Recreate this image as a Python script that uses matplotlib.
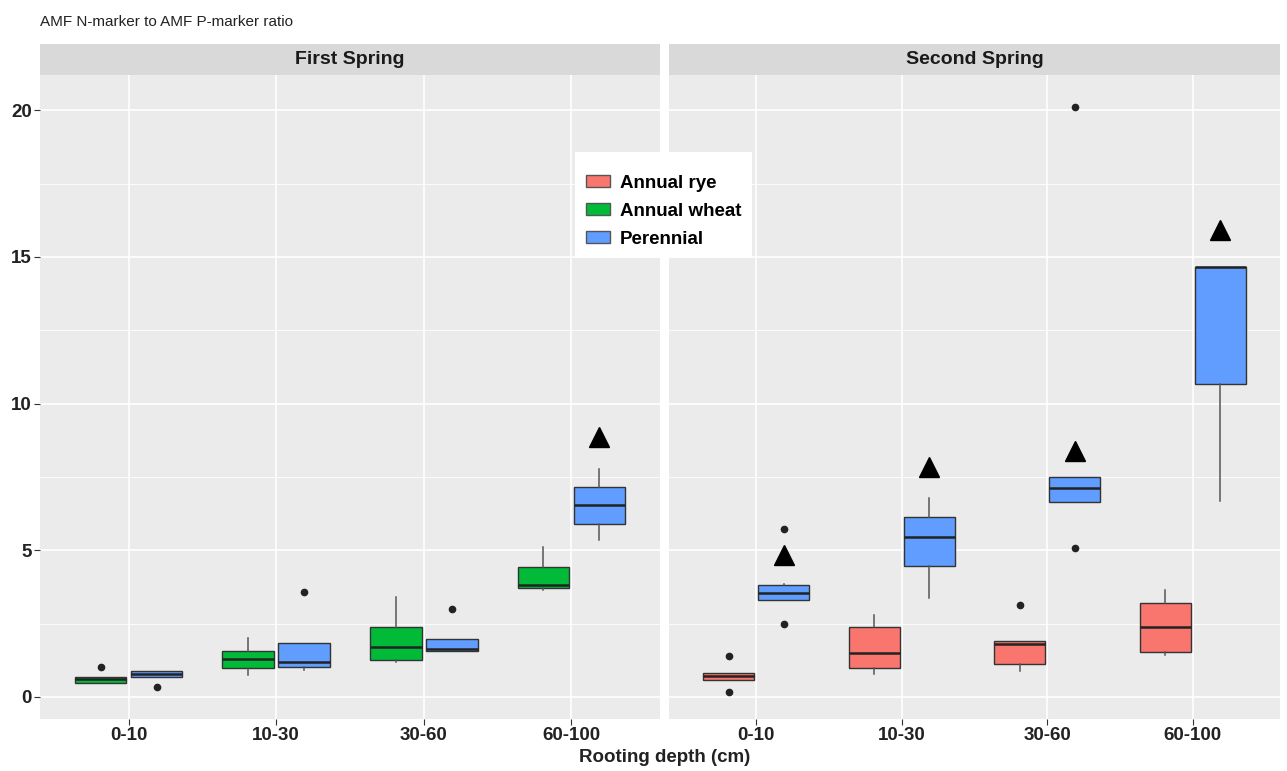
import numpy as np
import matplotlib.pyplot as plt
from matplotlib.patches import Patch, Rectangle
from matplotlib.ticker import MultipleLocator

plt.rcParams['font.family'] = ['Liberation Sans', 'DejaVu Sans']

depths = ['0-10', '10-30', '30-60', '60-100']
panels = ['First Spring', 'Second Spring']
groups = ['Annual rye', 'Annual wheat', 'Perennial']
colors = ['#F8766D', '#00BA38', '#619CFF']

# box stats: (q1, median, q3, whisker low, whisker high, outliers)
wheat_first = [
    (0.48, 0.60, 0.68, 0.48, 0.68, [1.02]),
    (0.99, 1.30, 1.57, 0.75, 2.00, []),
    (1.26, 1.71, 2.39, 1.20, 3.41, []),
    (3.72, 3.82, 4.44, 3.65, 5.12, []),
]
perennial_first = [
    (0.68, 0.80, 0.89, 0.68, 0.89, [0.34]),
    (1.02, 1.20, 1.84, 0.92, 1.84, [3.58]),
    (1.57, 1.64, 1.98, 1.57, 1.98, [3.00]),
    (5.90, 6.55, 7.17, 5.36, 7.78, []),
]
rye_second = [
    (0.58, 0.72, 0.82, 0.58, 0.82, [1.40, 0.17]),
    (0.99, 1.50, 2.39, 0.78, 2.80, []),
    (1.13, 1.79, 1.91, 0.88, 1.91, [3.13]),
    (1.54, 2.38, 3.19, 1.43, 3.63, []),
]
perennial_second = [
    (3.31, 3.55, 3.82, 3.31, 3.85, [5.73, 2.49]),
    (4.47, 5.46, 6.14, 3.38, 6.79, []),
    (6.65, 7.13, 7.50, 6.65, 7.50, [20.1, 5.07]),
    (10.66, 14.66, 14.66, 6.69, 14.66, []),
]

# significance triangles above the perennial boxes (None = no mark)
tri_first = [None, None, None, 8.87]
tri_second = [4.85, 7.85, 8.38, 15.9]

panel_data = [
    [(wheat_first, 1), (perennial_first, 2)],
    [(rye_second, 0), (perennial_second, 2)],
]
panel_tri = [tri_first, tri_second]

fig = plt.figure(figsize=(12.87, 7.71), dpi=100)
W, H = 1287, 771
axes = [
    fig.add_axes([40 / W, 1 - 719 / H, 620 / W, 644 / H]),
    fig.add_axes([669 / W, 1 - 719 / H, 611 / W, 644 / H]),
]

offsets = [-0.19, 0.19]
x = np.arange(1, len(depths) + 1)
fs = 13.5

for k, ax in enumerate(axes):
    ax.set_facecolor('#EBEBEB')
    for s in ax.spines.values():
        s.set_visible(False)
    ax.set_xlim(0.4, 4.6)
    ax.set_ylim(-0.75, 21.2)
    ax.yaxis.set_major_locator(MultipleLocator(5))
    ax.yaxis.set_minor_locator(MultipleLocator(2.5))
    ax.set_xticks(x)
    ax.set_xticklabels(depths, fontsize=fs, fontweight='bold', color='#222222')
    ax.grid(which='major', color='white', lw=1.2)
    ax.grid(which='minor', axis='y', color='white', lw=0.6)
    ax.set_axisbelow(True)
    ax.tick_params(axis='both', which='major', length=4, color='#333333', width=0.8, pad=2)
    ax.tick_params(axis='y', which='minor', length=0)
    if k == 1:
        ax.tick_params(axis='y', labelleft=False, length=0)

    for j, (series, ci) in enumerate(panel_data[k]):
        stats = [dict(q1=q1, med=m, q3=q3, whislo=lo, whishi=hi, fliers=fl)
                 for q1, m, q3, lo, hi, fl in series]
        ax.bxp(stats, positions=x + offsets[j], widths=0.35, patch_artist=True,
               showcaps=False, manage_ticks=False,
               boxprops=dict(facecolor=colors[ci], edgecolor='#333333', lw=1.0),
               medianprops=dict(color='#222222', lw=1.8),
               whiskerprops=dict(color='#555555', lw=1.1),
               flierprops=dict(marker='o', markersize=4.5, markerfacecolor='#222222',
                               markeredgecolor='#222222'))
    for i, t in enumerate(panel_tri[k]):
        if t is not None:
            ax.plot(x[i] + offsets[1], t, marker='^', color='black', markersize=15, ls='none')

axes[0].set_yticks([0, 5, 10, 15, 20])
axes[0].set_yticklabels(['0', '5', '10', '15', '20'], fontsize=fs, fontweight='bold', color='#222222')

# strips
for k, ax in enumerate(axes):
    pos = ax.get_position()
    strip = fig.add_axes([pos.x0, 1 - 75 / H, pos.width, 31 / H])
    strip.set_facecolor('#D9D9D9')
    strip.set_xticks([])
    strip.set_yticks([])
    for s in strip.spines.values():
        s.set_visible(False)
    strip.text(0.5, 0.5, panels[k], ha='center', va='center', fontsize=14,
               fontweight='bold', color='#1A1A1A', transform=strip.transAxes)

fig.text(40 / W, 1 - 22 / H, 'AMF N-marker to AMF P-marker ratio', fontsize=11,
         ha='left', va='center', color='#222222')
fig.text(665 / W, 1 - 758 / H, 'Rooting depth (cm)', fontsize=fs, fontweight='bold',
         ha='center', va='center', color='#222222')

# legend: white box plus frameless legend on top
fig.patches.append(Rectangle((575 / W, 1 - 258 / H), 177 / W, 106 / H, transform=fig.transFigure,
                             facecolor='white', edgecolor='none', zorder=9))
handles = [Patch(facecolor=c, edgecolor='#555555', label=g) for g, c in zip(groups, colors)]
leg = fig.legend(handles=handles, loc='upper left', bbox_to_anchor=(586 / W, 1 - 175 / H),
                 frameon=False, prop=dict(size=fs, weight='bold'), handlelength=1.3,
                 handleheight=0.6, borderpad=0, borderaxespad=0, labelspacing=0.58,
                 handletextpad=0.5)
leg.set_zorder(10)

fig.savefig('out.png', dpi=100)
